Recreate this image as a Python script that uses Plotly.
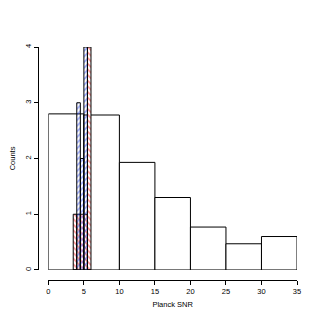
import plotly.graph_objects as go

# wide histogram (bin width 5)
wide_left = [0, 5, 10, 15, 20, 25, 30]
wide_counts = [2.80, 2.78, 1.93, 1.30, 0.77, 0.47, 0.60]

# narrow histograms (bin width 0.5)
narrow_left = [3.5, 4.0, 4.5, 5.0, 5.5]
blue_counts = [0, 3, 2, 4, 0]
red_counts = [1, 1, 1, 1, 4]

x_ticks = [0, 5, 10, 15, 20, 25, 30, 35]
y_ticks = [0, 1, 2, 3, 4]

fig = go.Figure()

fig.add_trace(go.Bar(x=[v + 2.5 for v in wide_left], y=wide_counts, width=5,
                     marker=dict(color="white", line=dict(color="black", width=1))))

fig.add_trace(go.Bar(x=[v + 0.25 for v in narrow_left], y=red_counts, width=0.5,
                     marker=dict(color="white", line=dict(color="black", width=1),
                                 pattern=dict(shape="\\", fgcolor="#ff2020", bgcolor="white",
                                              size=4, solidity=0.4, fillmode="overlay"))))
fig.add_trace(go.Bar(x=[v + 0.25 for v in narrow_left], y=blue_counts, width=0.5,
                     marker=dict(color="rgba(0,0,0,0)", line=dict(color="black", width=1),
                                 pattern=dict(shape="/", fgcolor="#3050ff", bgcolor="rgba(0,0,0,0)",
                                              size=4, solidity=0.4, fillmode="overlay"))))

font = dict(family="Liberation Sans, Arial, sans-serif", size=7.5, color="black")

# the page puts the plot 8px in from the top-left corner, so margins are shifted
fig.update_layout(
    width=327, height=327, template=None, showlegend=False, barmode="overlay",
    plot_bgcolor="white", paper_bgcolor="white", font=font,
    margin=dict(l=30, r=38, t=39, b=55),
    xaxis=dict(domain=[0.04, 1], anchor="free", position=0, range=[0, 35], automargin=False,
               tickvals=x_ticks, ticks="outside", ticklen=4, tickcolor="black",
               showline=True, linecolor="black", linewidth=1, showgrid=False, zeroline=False,
               tickfont=font, title=dict(text="Planck SNR", standoff=6, font=font)),
    yaxis=dict(domain=[0.043, 1], anchor="free", position=0, range=[0, 4], automargin=False,
               tickvals=y_ticks, ticks="outside", ticklen=4, tickcolor="black", tickangle=-90,
               showline=True, linecolor="black", linewidth=1, showgrid=False, zeroline=False,
               tickfont=font, title=dict(text="Counts", standoff=6, font=font)),
)

fig.write_html("out.html")
